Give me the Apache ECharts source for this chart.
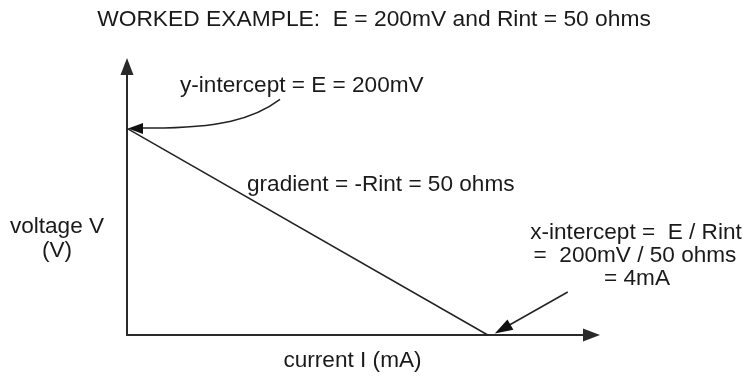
<!DOCTYPE html>
<html>
<head>
<meta charset="utf-8">
<script src="https://cdn.jsdelivr.net/npm/echarts@6/dist/echarts.min.js"></script>
<style>html,body{margin:0;padding:0;background:#fff;}#c{width:744px;height:378px;}</style>
</head>
<body>
<div id="c"></div>
<script>
// Data
const linePoints = [[0, 200], [4, 0]];     // current (mA), voltage (mV)
const yIntercept = [0, 200];
const xIntercept = [4, 0];
const titleText = 'WORKED EXAMPLE:  E = 200mV and Rint = 50 ohms';
const yLabelLines = ['voltage V', '(V)'];
const xLabel = 'current I (mA)';
const yInterceptNote = 'y-intercept = E = 200mV';
const gradientNote = 'gradient = -Rint = 50 ohms';
const xInterceptNote = ['x-intercept =  E / Rint', '=  200mV / 50 ohms', '= 4mA'];

const FONT = '"Liberation Sans", Arial, Helvetica, sans-serif';
const TXT = '#1a1a1a';
const FS = 22.6;

const chart = echarts.init(document.getElementById('c'), null, {renderer: 'canvas'});
const axisCommon = {
  axisTick: {show: false},
  axisLabel: {show: false},
  splitLine: {show: false},
  axisLine: {
    show: true,
    symbol: ['none', 'triangle'],
    symbolSize: [13, 17],
    lineStyle: {color: '#2a2a2a', width: 2}
  }
};
chart.setOption({
  animation: false,
  backgroundColor: '#fff',
  grid: {left: 127, right: 152.5, top: 66.5, bottom: 43, containLabel: false},
  xAxis: Object.assign({type: 'value', min: 0, max: 5.15}, axisCommon),
  yAxis: Object.assign({type: 'value', min: 0, max: 260}, axisCommon),
  series: [{
    type: 'line',
    data: linePoints,
    symbol: 'none',
    lineStyle: {color: '#222', width: 1.5},
    silent: true
  }]
});

// baseline -> middle conversion
function txt(x, baseline, s, align, size) {
  const fs = size || FS;
  return {type: 'text', x: x, y: baseline - 0.34 * fs, silent: true,
    style: {text: s, font: fs + 'px ' + FONT, fill: TXT, align: align || 'left', verticalAlign: 'middle'}};
}
function arrowHead(tip, from, len, wid) {
  const dx = tip[0] - from[0], dy = tip[1] - from[1];
  const d = Math.sqrt(dx * dx + dy * dy);
  const ux = dx / d, uy = dy / d;
  const bx = tip[0] - ux * len, by = tip[1] - uy * len;
  const px = -uy * wid / 2, py = ux * wid / 2;
  return {type: 'polygon', silent: true,
    shape: {points: [tip, [bx + px, by + py], [bx - px, by - py]]},
    style: {fill: '#111'}};
}

const pY = chart.convertToPixel({gridIndex: 0}, yIntercept);
const pX = chart.convertToPixel({gridIndex: 0}, xIntercept);

// curved arrow to y-intercept
const yTip = [pY[0] + 1, pY[1]];
const yStart = [pY[0] + 153, pY[1] - 29];
const yBase = [yTip[0] + 15, yTip[1] - 0.5];
// straight arrow to x-intercept
const xTip = [pX[0] + 7, pX[1] - 1.5];
const xStart = [pX[0] + 80, pX[1] - 43];

chart.setOption({
  graphic: [
    txt(374, 27, titleText, 'center', 22.8),
    txt(180, 93, yInterceptNote),
    txt(247, 192, gradientNote),
    txt(57, 234, yLabelLines[0], 'center'),
    txt(57, 258, yLabelLines[1], 'center'),
    txt(352.5, 368, xLabel, 'center'),
    txt(636, 240, xInterceptNote[0], 'center'),
    txt(635, 263, xInterceptNote[1], 'center'),
    txt(637, 286, xInterceptNote[2], 'center'),
    {type: 'bezierCurve', silent: true,
      shape: {x1: yStart[0], y1: yStart[1], cpx1: yStart[0] - 25, cpy1: yStart[1] + 19,
              cpx2: yStart[0] - 60, cpy2: yBase[1] + 1, x2: yBase[0], y2: yBase[1]},
      style: {stroke: '#222', lineWidth: 1.5, fill: null}},
    arrowHead(yTip, [yTip[0] + 20, yTip[1]], 15, 11),
    {type: 'line', silent: true,
      shape: {x1: xStart[0], y1: xStart[1], x2: xTip[0] + 12, y2: xTip[1] - 7},
      style: {stroke: '#222', lineWidth: 1.5}},
    arrowHead(xTip, xStart, 18, 12)
  ]
});
</script>
</body>
</html>
